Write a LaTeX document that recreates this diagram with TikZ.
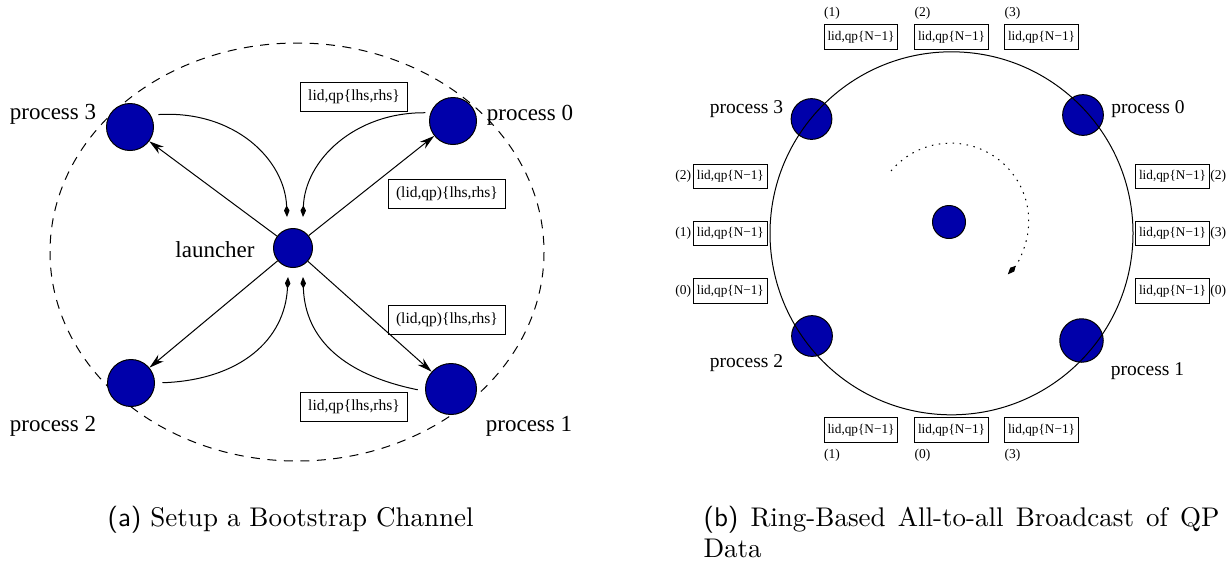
\documentclass[tikz,border=0pt]{standalone}
\usepackage{fontspec}
\usetikzlibrary{arrows.meta,positioning}
\newfontfamily\figfont{Liberation Serif}
\definecolor{procblue}{RGB}{0,0,170}

\begin{document}
\begin{tikzpicture}[x=0.4pt, y=-0.4pt, line width=0.4pt,
    proc/.style = {draw, circle, fill=procblue, inner sep=0pt, minimum size=18.8pt},
    plabel/.style = {font=\figfont\fontsize{9.2}{11}\selectfont, inner sep=0pt},
    rlabel/.style = {font=\figfont\fontsize{7.8}{9}\selectfont, inner sep=0pt},
    msg/.style = {draw, font=\figfont\fontsize{6.2}{7.5}\selectfont, inner xsep=2.9pt, inner ysep=0pt, minimum height=11.3pt},
    slot/.style = {draw, font=\figfont\fontsize{5.3}{6.4}\selectfont, inner sep=0pt, minimum width=29.5pt, minimum height=9.7pt},
    idx/.style = {font=\figfont\fontsize{5.4}{6.4}\selectfont, inner sep=0pt},
    caption/.style = {font=\fontsize{10.8}{13}\selectfont, inner sep=0pt, anchor=base west},
    send/.style = {-{Stealth[length=6pt, width=3.4pt]}},
    reply/.style = {-{Kite[length=4.6pt, width=2.2pt, inset=2pt]}}]

    \useasboundingbox (0,0) rectangle (1231,562);

    \draw[dash pattern=on 3.6pt off 3pt] (297,252) ellipse [x radius=247, y radius=209];

    \node[proc] (p3) at (130,127) {};
    \node[proc] (p0) at (453,121) {};
    \node[proc] (p2) at (131,383) {};
    \node[proc, minimum size=20.4pt] (p1) at (451,389) {};
    \node[proc, minimum size=15.6pt] (la) at (293,248) {};

    \node[plabel] (n3) at (53,114) {process 3};
    \node[plabel] (n0) at (530,115) {process 0};
    \node[plabel] (n2) at (53,426) {process 2};
    \node[plabel] (n1) at (529,426) {process 1};
    \node[plabel] (nl) at (215,250) {launcher};

    \node[msg] (m3) at (354,97) {lid,qp\{lhs,rhs\}};
    \node[msg] (m0) at (447,194) {(lid,qp)\{lhs,rhs\}};
    \node[msg] (m1) at (447,320) {(lid,qp)\{lhs,rhs\}};
    \node[msg] (m2) at (354,407) {lid,qp\{lhs,rhs\}};

    \coordinate (t3) at (287,217);
    \coordinate (t0) at (303,217);
    \coordinate (t2) at (288,277);
    \coordinate (t1) at (303,277);

    \draw[send] (la) -- (p3);
    \draw[send] (la) -- (p0);
    \draw[send] (la) -- (p2);
    \draw[send] (la) -- (p1);

    \draw[reply, shorten <=3pt] (p3.30) .. controls (235,110) and (285,160) .. (t3);
    \draw[reply, shorten <=2pt] (p0.160) .. controls (355,112) and (305,160) .. (t0);
    \draw[reply, shorten <=3pt] (p2.east) .. controls (240,380) and (285,340) .. (t2);
    \draw[reply, shorten <=3pt] (p1.185) .. controls (345,375) and (305,340) .. (t1);

    \node[proc, minimum size=16.3pt] (q3) at (811.5,119) {};
    \node[proc, minimum size=16.3pt] (q0) at (1083,115) {};
    \node[proc, minimum size=16.3pt] (q2) at (812,336) {};
    \node[proc, minimum size=17.4pt] (q1) at (1081.5,340.5) {};
    \node[proc, minimum size=13.2pt] (hub) at (949,222) {};

    \coordinate (ring) at (951.5,233.3);
    \draw (ring) circle [radius=181.5];

    \node[rlabel] (r3) at (746.5,109) {process 3};
    \node[rlabel] (r0) at (1148,109) {process 0};
    \node[rlabel] (r2) at (746.5,363) {process 2};
    \node[rlabel] (r1) at (1147.5,371) {process 1};

    \coordinate (rs) at (891,171);
    \draw[reply, dash pattern=on 0.6pt off 2.2pt] (rs) arc [start angle=-140, end angle=43, radius=78];

    \node[slot] (tb1) at (861,37) {lid,qp\{N−1\}};
    \node[slot] (tb2) at (951.5,37) {lid,qp\{N−1\}};
    \node[slot] (tb3) at (1041.5,37) {lid,qp\{N−1\}};
    \node[idx, above=2pt of tb1.north west, anchor=south west] (ti1) {(1)};
    \node[idx, above=2pt of tb2.north west, anchor=south west] (ti2) {(2)};
    \node[idx, above=2pt of tb3.north west, anchor=south west] (ti3) {(3)};

    \node[slot] (bb1) at (861,430) {lid,qp\{N−1\}};
    \node[slot] (bb2) at (951.5,430) {lid,qp\{N−1\}};
    \node[slot] (bb3) at (1041.5,430) {lid,qp\{N−1\}};
    \node[idx, below=2.4pt of bb1.south west, anchor=north west] (bi1) {(1)};
    \node[idx, below=2.4pt of bb2.south west, anchor=north west] (bi2) {(0)};
    \node[idx, below=2.4pt of bb3.south west, anchor=north west] (bi3) {(3)};

    \node[slot] (lb1) at (730.3,176.3) {lid,qp\{N−1\}};
    \node[slot] (lb2) at (730.3,233.7) {lid,qp\{N−1\}};
    \node[slot] (lb3) at (730.3,291) {lid,qp\{N−1\}};
    \node[idx, left=0.5pt of lb1] (li1) {(2)};
    \node[idx, left=0.5pt of lb2] (li2) {(1)};
    \node[idx, left=0.5pt of lb3] (li3) {(0)};

    \node[slot] (rb1) at (1172.5,176.3) {lid,qp\{N−1\}};
    \node[slot] (rb2) at (1172.5,233.7) {lid,qp\{N−1\}};
    \node[slot] (rb3) at (1172.5,291) {lid,qp\{N−1\}};
    \node[idx, right=0pt of rb1] (ri1) {(2)};
    \node[idx, right=0pt of rb2] (ri2) {(3)};
    \node[idx, right=0pt of rb3] (ri3) {(0)};

    \node[caption] (capa) at (107,526) {\textsf{(a)} Setup a Bootstrap Channel};
    \node[caption] (capb) at (703,526) {\makebox[206.4pt][s]{\textsf{(b)} Ring-Based All-to-all Broadcast of QP}};
    \node[caption] (capc) at (703,557) {Data};

\end{tikzpicture}
\end{document}
